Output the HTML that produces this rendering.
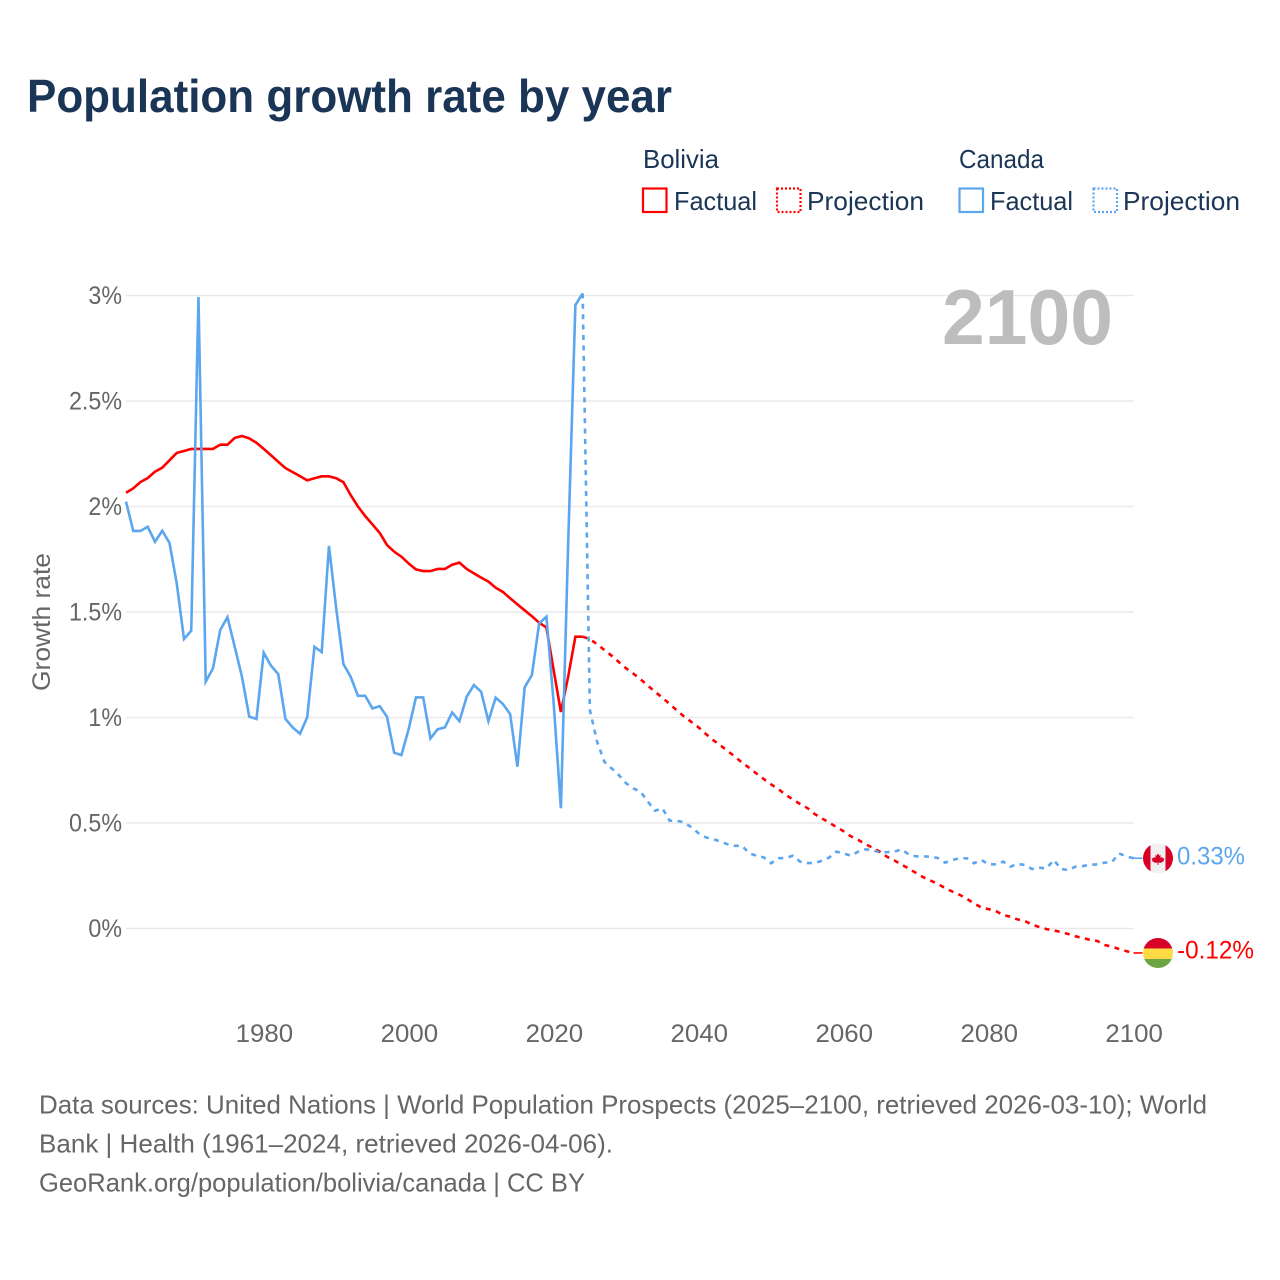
<!DOCTYPE html>
<html lang="en">
<head>
<meta charset="utf-8">
<title>Population growth rate by year</title>
<style>
  html, body { margin: 0; padding: 0; background: #fff; }
  svg { display: block; font-family: "Liberation Sans", sans-serif; }
</style>
</head>
<body>
<svg id="chart" xmlns="http://www.w3.org/2000/svg" width="1280" height="1280" viewBox="0 0 1280 1280">
  <defs>
    <clipPath id="flag-clip-canada"><circle cx="1158" cy="858" r="15"></circle></clipPath>
    <clipPath id="flag-clip-bolivia"><circle cx="1158" cy="953" r="15"></circle></clipPath>
  </defs>
  <rect x="0" y="0" width="1280" height="1280" fill="#ffffff"></rect>

  <text x="27" y="112" font-size="46" font-weight="700" fill="#1a3556" textLength="645" lengthAdjust="spacingAndGlyphs">Population growth rate by year</text>

  <g font-size="26" fill="#1a3556">
    <text x="643" y="168" textLength="76" lengthAdjust="spacingAndGlyphs">Bolivia</text>
    <text x="959" y="168" textLength="85" lengthAdjust="spacingAndGlyphs">Canada</text>
    <rect x="643" y="188.5" width="23.5" height="23.5" fill="none" stroke="#ff0000" stroke-width="2.2"></rect>
    <text x="674" y="210" textLength="83" lengthAdjust="spacingAndGlyphs">Factual</text>
    <rect x="777" y="188.5" width="23.5" height="23.5" fill="none" stroke="#ff0000" stroke-width="2.2" stroke-dasharray="2 2"></rect>
    <text x="807" y="210" textLength="117" lengthAdjust="spacingAndGlyphs">Projection</text>
    <rect x="959.5" y="188.5" width="23.5" height="23.5" fill="none" stroke="#5ba6ee" stroke-width="2.2"></rect>
    <text x="990" y="210" textLength="83" lengthAdjust="spacingAndGlyphs">Factual</text>
    <rect x="1093.5" y="188.5" width="23.5" height="23.5" fill="none" stroke="#5ba6ee" stroke-width="2.2" stroke-dasharray="2 2"></rect>
    <text x="1123" y="210" textLength="117" lengthAdjust="spacingAndGlyphs">Projection</text>
  </g>

  <g id="grid-layer"></g>
  <g id="y-tick-layer" font-size="25" fill="#666666" text-anchor="end"></g>
  <g id="x-tick-layer" font-size="25" fill="#666666" text-anchor="middle"></g>

  <text transform="translate(50 622) rotate(-90)" font-size="25" fill="#666666" text-anchor="middle" textLength="138" lengthAdjust="spacingAndGlyphs">Growth rate</text>

  <text x="1113" y="344" font-size="78" font-weight="700" fill="#bdbdbd" text-anchor="end" textLength="171" lengthAdjust="spacingAndGlyphs">2100</text>

  <g id="series-layer"></g>

  <g id="flag-canada" clip-path="url(#flag-clip-canada)">
    <rect x="1143" y="843" width="30" height="30" fill="#f0f0f0"></rect>
    <rect x="1143" y="843" width="7.5" height="30" fill="#d80027"></rect>
    <rect x="1165.5" y="843" width="7.5" height="30" fill="#d80027"></rect>
    <polygon fill="#d80027" points="1158,853 1159.3,855.4 1160.8,854.9 1160.3,857.6 1162.2,856.8 1162.7,858.1 1164.4,857.9 1163.6,860.1 1164.2,860.6 1160.9,862.6 1158.5,862.3 1158.5,864.6 1157.5,864.6 1157.5,862.3 1155.1,862.6 1151.8,860.6 1152.4,860.1 1151.6,857.9 1153.3,858.1 1153.8,856.8 1155.7,857.6 1155.2,854.9 1156.7,855.4"></polygon>
  </g>
  <g id="flag-bolivia" clip-path="url(#flag-clip-bolivia)">
    <rect x="1143" y="938" width="30" height="10.5" fill="#d80027"></rect>
    <rect x="1143" y="948.5" width="30" height="10.5" fill="#ffda44"></rect>
    <rect x="1143" y="959" width="30" height="10" fill="#6da544"></rect>
  </g>
  <text id="end-label-canada" x="1177" y="865" font-size="25" fill="#5ba6ee" textLength="68" lengthAdjust="spacingAndGlyphs"></text>
  <text id="end-label-bolivia" x="1177" y="959" font-size="25" fill="#ff0000" textLength="77" lengthAdjust="spacingAndGlyphs"></text>

  <g font-size="26" fill="#666666">
    <text x="39" y="1113.5" textLength="1168" lengthAdjust="spacingAndGlyphs">Data sources: United Nations | World Population Prospects (2025–2100, retrieved 2026-03-10); World</text>
    <text x="39" y="1152.5" textLength="574" lengthAdjust="spacingAndGlyphs">Bank | Health (1961–2024, retrieved 2026-04-06).</text>
    <text x="39" y="1191.5" textLength="546" lengthAdjust="spacingAndGlyphs">GeoRank.org/population/bolivia/canada | CC BY</text>
  </g>
</svg>

<script>
const factualStartYear = 1961;
const projectionStartYear = 2024;

const boliviaFactual = [
  2.065, 2.086, 2.116, 2.135, 2.165, 2.184, 2.219, 2.254, 2.263, 2.273,
  2.273, 2.273, 2.273, 2.293, 2.293, 2.325, 2.334, 2.323, 2.302, 2.273,
  2.243, 2.212, 2.182, 2.163, 2.144, 2.124, 2.134, 2.143, 2.143, 2.134,
  2.115, 2.054, 2.000, 1.955, 1.915, 1.875, 1.818, 1.786, 1.762, 1.730,
  1.702, 1.694, 1.694, 1.704, 1.704, 1.724, 1.734, 1.704, 1.683, 1.663,
  1.644, 1.615, 1.595, 1.565, 1.536, 1.508, 1.480, 1.449, 1.427, 1.225,
  1.026, 1.193, 1.383, 1.383
];

const canadaFactual = [
  2.023, 1.884, 1.884, 1.904, 1.833, 1.885, 1.827, 1.636, 1.372, 1.411,
  2.993, 1.170, 1.233, 1.415, 1.475, 1.335, 1.193, 1.004, 0.993, 1.307,
  1.246, 1.206, 0.993, 0.953, 0.923, 1.001, 1.335, 1.310, 1.813, 1.517,
  1.253, 1.193, 1.103, 1.103, 1.043, 1.054, 1.004, 0.833, 0.822, 0.945,
  1.095, 1.095, 0.901, 0.944, 0.953, 1.024, 0.983, 1.098, 1.154, 1.122,
  0.983, 1.094, 1.064, 1.016, 0.767, 1.143, 1.201, 1.446, 1.478, 1.070,
  0.570, 1.820, 2.955, 3.010
];

const boliviaProjection = [
  1.383, 1.372, 1.347, 1.320, 1.293, 1.263, 1.233, 1.208, 1.181, 1.151,
  1.122, 1.094, 1.064, 1.034, 1.004, 0.979, 0.953, 0.922, 0.893, 0.868,
  0.841, 0.815, 0.786, 0.761, 0.734, 0.708, 0.683, 0.661, 0.634, 0.612,
  0.590, 0.571, 0.543, 0.522, 0.502, 0.481, 0.461, 0.437, 0.420, 0.400,
  0.383, 0.364, 0.340, 0.323, 0.303, 0.284, 0.263, 0.243, 0.227, 0.211,
  0.192, 0.175, 0.160, 0.141, 0.119, 0.100, 0.092, 0.083, 0.064, 0.056,
  0.043, 0.036, 0.018, 0.007, -0.003, -0.009, -0.017, -0.026, -0.037, -0.045,
  -0.054, -0.059, -0.078, -0.086, -0.097, -0.107, -0.116
];

const canadaProjection = [
  3.010, 1.035, 0.885, 0.790, 0.759, 0.727, 0.688, 0.664, 0.648, 0.601,
  0.558, 0.570, 0.511, 0.511, 0.503, 0.480, 0.451, 0.432, 0.423, 0.413,
  0.399, 0.392, 0.392, 0.356, 0.345, 0.337, 0.309, 0.333, 0.334, 0.345,
  0.317, 0.310, 0.310, 0.321, 0.336, 0.364, 0.356, 0.345, 0.364, 0.375,
  0.372, 0.360, 0.362, 0.364, 0.375, 0.351, 0.342, 0.342, 0.340, 0.334,
  0.312, 0.325, 0.333, 0.333, 0.309, 0.325, 0.304, 0.304, 0.317, 0.293,
  0.306, 0.301, 0.282, 0.288, 0.285, 0.325, 0.282, 0.277, 0.293, 0.296,
  0.302, 0.304, 0.312, 0.314, 0.356, 0.342, 0.333
];

const yTickValues = [0, 0.5, 1, 1.5, 2, 2.5, 3];
const yTickLabels = ["0%", "0.5%", "1%", "1.5%", "2%", "2.5%", "3%"];
const xTickValues = [1980, 2000, 2020, 2040, 2060, 2080, 2100];
const xTickLabels = ["1980", "2000", "2020", "2040", "2060", "2080", "2100"];
const endValueLabels = ["0.33%", "-0.12%"];

const SVG_NS = "http://www.w3.org/2000/svg";
const plotLeft = 126;
const plotRight = 1133.5;
const firstYear = 1961;
const lastYear = 2100;
const zeroY = 928.5;
const pxPerUnit = 211;

function xScale(year) {
  return plotLeft + (year - firstYear) * (plotRight - plotLeft) / (lastYear - firstYear);
}
function yScale(value) {
  return zeroY - value * pxPerUnit;
}
function linePath(values, startYear) {
  return values.map(function (v, i) {
    return (i ? "L" : "M") + xScale(startYear + i).toFixed(2) + " " + yScale(v).toFixed(2);
  }).join(" ");
}

const gridLayer = document.getElementById("grid-layer");
const yTickLayer = document.getElementById("y-tick-layer");
const xTickLayer = document.getElementById("x-tick-layer");
const seriesLayer = document.getElementById("series-layer");

yTickValues.forEach(function (v, i) {
  const g = document.createElementNS(SVG_NS, "line");
  
  
  g.setAttribute("x1", plotLeft);
  g.setAttribute("x2", plotRight);
  g.setAttribute("y1", yScale(v));
  g.setAttribute("y2", yScale(v));
  g.setAttribute("stroke", "#e9e9e9");
  g.setAttribute("stroke-width", "1.4");
  gridLayer.appendChild(g);

  const t = document.createElementNS(SVG_NS, "text");
  
  
  t.setAttribute("x", 122);
  t.setAttribute("y", yScale(v) + 8.5);
  t.textContent = yTickLabels[i];
  yTickLayer.appendChild(t);
  t.setAttribute("textLength", (t.getComputedTextLength() * 0.93).toFixed(1));
  t.setAttribute("lengthAdjust", "spacingAndGlyphs");
});

xTickValues.forEach(function (year, i) {
  const t = document.createElementNS(SVG_NS, "text");
  
  
  t.setAttribute("x", xScale(year) + 0.7);
  t.setAttribute("y", 1042);
  t.textContent = xTickLabels[i];
  xTickLayer.appendChild(t);
  t.setAttribute("textLength", "57.5");
  t.setAttribute("lengthAdjust", "spacingAndGlyphs");
});

function addSeries(values, startYear, color, dashed, name) {
  const p = document.createElementNS(SVG_NS, "path");
  
  
  p.setAttribute("d", linePath(values, startYear));
  p.setAttribute("fill", "none");
  p.setAttribute("stroke", color);
  p.setAttribute("stroke-width", "2.6");
  p.setAttribute("stroke-linejoin", "miter");
  if (dashed) {
    p.setAttribute("stroke-dasharray", "5 5.4");
  }
  seriesLayer.appendChild(p);
}

function addLeader(value, color, name) {
  const l = document.createElementNS(SVG_NS, "line");
  
  
  l.setAttribute("x1", xScale(lastYear));
  l.setAttribute("x2", xScale(lastYear) + 9);
  l.setAttribute("y1", yScale(value));
  l.setAttribute("y2", yScale(value));
  l.setAttribute("stroke", color);
  l.setAttribute("stroke-width", "1.6");
  seriesLayer.appendChild(l);
}

const RED = "#ff0000";
const BLUE = "#5ba6ee";
addSeries(boliviaFactual, factualStartYear, RED, false, "bolivia-factual-line");
addSeries(boliviaProjection, projectionStartYear, RED, true, "bolivia-projection-line");
addSeries(canadaFactual, factualStartYear, BLUE, false, "canada-factual-line");
addSeries(canadaProjection, projectionStartYear, BLUE, true, "canada-projection-line");

const canadaEnd = canadaProjection[canadaProjection.length - 1];
const boliviaEnd = boliviaProjection[boliviaProjection.length - 1];
addLeader(canadaEnd, BLUE, "canada-end-leader");
addLeader(boliviaEnd, RED, "bolivia-end-leader");

const canadaLabel = document.getElementById("end-label-canada");
const boliviaLabel = document.getElementById("end-label-bolivia");
canadaLabel.textContent = endValueLabels[0];
boliviaLabel.textContent = endValueLabels[1];
canadaLabel.setAttribute("y", yScale(canadaEnd) + 6.5);
boliviaLabel.setAttribute("y", yScale(boliviaEnd) + 5.5);
document.getElementById("flag-canada").setAttribute("transform", "translate(0 " + (yScale(canadaEnd) - 858) + ")");
document.getElementById("flag-bolivia").setAttribute("transform", "translate(0 " + (yScale(boliviaEnd) - 953) + ")");
</script>
</body>
</html>
